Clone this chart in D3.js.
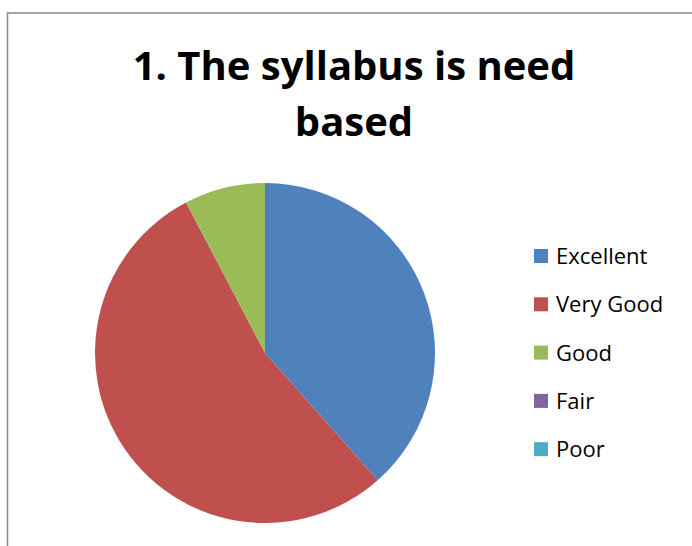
<!DOCTYPE html>
<html><head><meta charset="utf-8">
<script src="https://cdn.jsdelivr.net/npm/d3@7"></script>
<style>body{margin:0;background:#fff}svg{display:block}</style>
</head><body>
<script>
const categories = ["Excellent","Very Good","Good","Fair","Poor"];
const values = [20, 28, 4, 0, 0];
const colors = ["#4F81BD","#C0504D","#9BBB59","#8064A2","#4BACC6"];
const titleLines = ["1. The syllabus is need","based"];

const W=692,H=546;
const svg=d3.select("body").append("svg").attr("width",W).attr("height",H);
svg.append("rect").attr("x",7.5).attr("y",13).attr("width",W).attr("height",H).attr("fill","#fff").attr("stroke","#888").attr("stroke-width",1.5);

svg.selectAll("text.title").data(titleLines).enter().append("text")
  .attr("x",354).attr("y",(d,i)=>80+i*56).attr("text-anchor","middle")
  .attr("font-family","'Open Sans', 'Liberation Sans', sans-serif").attr("font-weight","bold")
  .attr("font-size",40).attr("fill","#000").text(d=>d);

const color=d3.scaleOrdinal().domain(categories).range(colors);
const pie=d3.pie().sort(null).value(d=>d.v);
const data=categories.map((c,i)=>({c,v:values[i]}));
const arc=d3.arc().innerRadius(0).outerRadius(170);
const g=svg.append("g").attr("transform","translate(265,353)");
g.selectAll("path").data(pie(data)).enter().append("path").attr("d",arc).attr("fill",d=>color(d.data.c));

const lg=svg.append("g").attr("transform","translate(534,249)");
const item=lg.selectAll("g").data(categories).enter().append("g").attr("transform",(d,i)=>`translate(0,${i*48.3})`);
item.append("rect").attr("width",14).attr("height",14).attr("fill",d=>color(d));
item.append("text").attr("x",22).attr("y",15).attr("font-family","'Open Sans', 'Liberation Sans', sans-serif")
  .attr("font-size",22).attr("fill","#000").text(d=>d);
</script>
</body></html>
